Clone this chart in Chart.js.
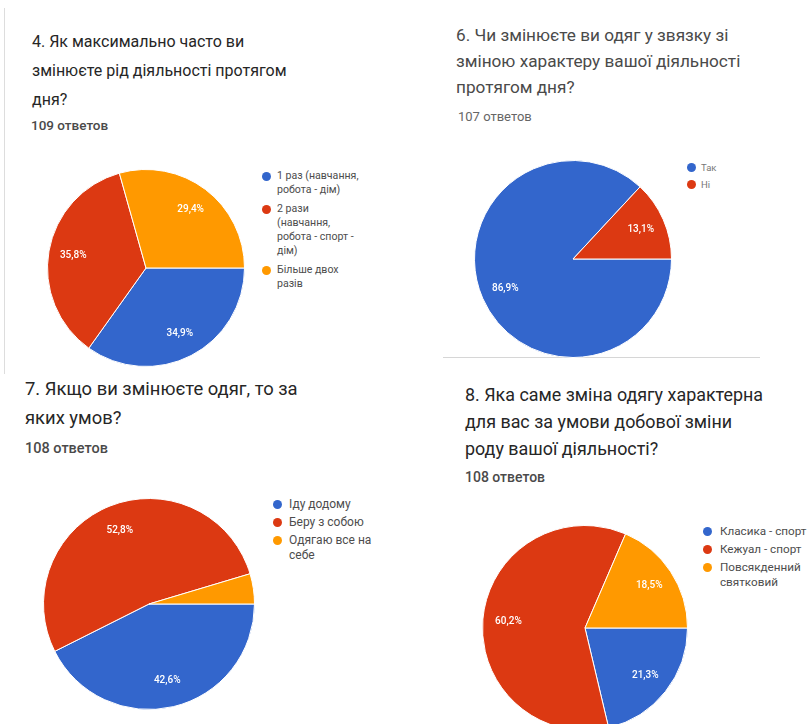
<!DOCTYPE html>
<html lang="uk">
<head>
<meta charset="UTF-8">
<title>Результати опитування</title>
<script src="https://cdn.jsdelivr.net/npm/chart.js"></script>
<style>
    body { margin: 0; width: 807px; height: 724px; overflow: hidden; background: #fff;
           font-family: Roboto, "Open Sans", sans-serif; position: relative; }
    .title { position: absolute; white-space: nowrap; color: #262626; }
    .count { position: absolute; white-space: nowrap; color: #4a4a4a; font-weight: 500; }
    canvas { position: absolute; }
    .legend { position: absolute; color: #4d4d4d; }
    .legend-item { position: relative; }
    .legend-item .dot { position: absolute; left: 0; width: 9px; height: 9px; border-radius: 50%; }
    .rule-v { position: absolute; left: 4px; top: 8px; width: 1px; height: 366px; background: #ddd; }
    .rule-h { position: absolute; left: 443px; top: 357px; width: 317px; height: 1px; background: #d6d6d6; }
</style>
</head>
<body>
<div class="rule-v"></div>
<div class="rule-h"></div>

<div class="title" style="left:32px; top:27px; font-size:16px; line-height:29px;">4. Як максимально часто ви<br>змінюєте рід діяльності протягом<br>дня?</div>
<div class="count" style="left:31px; top:117px; font-size:13.5px;">109 ответов</div>
<canvas id="pie4" width="198" height="198" style="left:47px; top:169px;"></canvas>
<div class="legend" id="legend4" style="left:262px; top:169px; width:100px; font-size:10.6px; line-height:14px;"></div>

<div class="title" style="left:456px; top:22px; font-size:17.2px; line-height:26px; color:#4a4a4a;">6. Чи змінюєте ви одяг у звязку зі<br>зміною характеру вашої діяльності<br>протягом дня?</div>
<div class="count" style="left:458px; top:109px; font-size:13px; font-weight:400; color:#666;">107 ответов</div>
<canvas id="pie6" width="198" height="198" style="left:474px; top:160px;"></canvas>
<div class="legend" id="legend6" style="left:687px; top:161px; width:60px; font-size:9.5px; line-height:13px; color:#777;"></div>

<div class="title" style="left:25px; top:374px; font-size:18.4px; line-height:29px;">7. Якщо ви змінюєте одяг, то за<br>яких умов?</div>
<div class="count" style="left:25px; top:440px; font-size:14.5px;">108 ответов</div>
<canvas id="pie7" width="212" height="212" style="left:43px; top:498px;"></canvas>
<div class="legend" id="legend7" style="left:273px; top:497px; width:104px; font-size:12px; line-height:15px;"></div>

<div class="title" style="left:465px; top:381px; font-size:17.9px; line-height:27px;">8. Яка саме зміна одягу характерна<br>для вас за умови добової зміни<br>роду вашої діяльності?</div>
<div class="count" style="left:465px; top:469px; font-size:14px;">108 ответов</div>
<canvas id="pie8" width="206" height="206" style="left:482px; top:525px;"></canvas>
<div class="legend" id="legend8" style="left:703px; top:524px; width:104px; font-size:11.7px; line-height:15px;"></div>

<script>
    // дані з чотирьох діаграм (кількість відповідей)
    const q4Labels = ['1 раз (навчання, робота - дім)', '2 рази (навчання, робота - спорт - дім)', 'Більше двох разів'];
    const q4Values = [38, 39, 32];

    const q6Labels = ['Так', 'Ні'];
    const q6Values = [93, 14];

    const q7Labels = ['Іду додому', 'Беру з собою', 'Одягаю все на себе'];
    const q7Values = [46, 57, 5];

    const q8Labels = ['Класика - спорт', 'Кежуал - спорт', 'Повсякденний святковий'];
    const q8Values = [23, 65, 20];

    const colors = ['#3366cc', '#dc3912', '#ff9900'];

    // підписи відсотків всередині секторів
    const percentLabels = {
        id: 'percentLabels',
        afterDatasetsDraw(chart) {
            const ctx = chart.ctx;
            const data = chart.data.datasets[0].data;
            const total = data.reduce((a, b) => a + b, 0);
            chart.getDatasetMeta(0).data.forEach((arc, i) => {
                const share = data[i] / total * 100;
                if (share < 5) return;
                const mid = (arc.startAngle + arc.endAngle) / 2;
                const r = arc.outerRadius * 0.75;
                ctx.save();
                ctx.fillStyle = '#fff';
                ctx.font = '500 10px Roboto';
                ctx.textAlign = 'center';
                ctx.textBaseline = 'middle';
                ctx.fillText(share.toFixed(1).replace('.', ',') + '%', arc.x + Math.cos(mid) * r, arc.y + Math.sin(mid) * r);
                ctx.restore();
            });
        }
    };

    function drawPie(id, labels, values) {
        new Chart(document.getElementById(id), {
            type: 'pie',
            data: {
                labels: labels,
                datasets: [{
                    data: values,
                    backgroundColor: colors,
                    borderColor: '#fff',
                    borderWidth: 1,
                    hoverOffset: 0
                }]
            },
            options: {
                responsive: false,
                animation: false,
                events: [],
                rotation: 90,
                layout: { padding: 0 },
                plugins: { legend: { display: false }, tooltip: { enabled: false } }
            },
            plugins: [percentLabels]
        });
    }

    function drawLegend(id, labels, gap, dotTop, pad) {
        let box = document.getElementById(id);
        labels.forEach((text, i) => {
            let item = document.createElement('div');
            item.className = 'legend-item';
            item.style.paddingLeft = pad + 'px';
            item.style.marginBottom = gap + 'px';
            let dot = document.createElement('span');
            dot.className = 'dot';
            dot.style.background = colors[i];
            dot.style.top = dotTop + 'px';
            item.appendChild(dot);
            item.appendChild(document.createTextNode(text));
            box.appendChild(item);
        });
    }

    drawPie('pie4', q4Labels, q4Values);
    drawPie('pie6', q6Labels, q6Values);
    drawPie('pie7', q7Labels, q7Values);
    drawPie('pie8', q8Labels, q8Values);

    drawLegend('legend4', q4Labels, 5, 2.5, 15);
    drawLegend('legend6', q6Labels, 4, 2, 14);
    drawLegend('legend7', q7Labels, 3, 3, 16);
    drawLegend('legend8', q8Labels, 3, 3, 17);
</script>
</body>
</html>
